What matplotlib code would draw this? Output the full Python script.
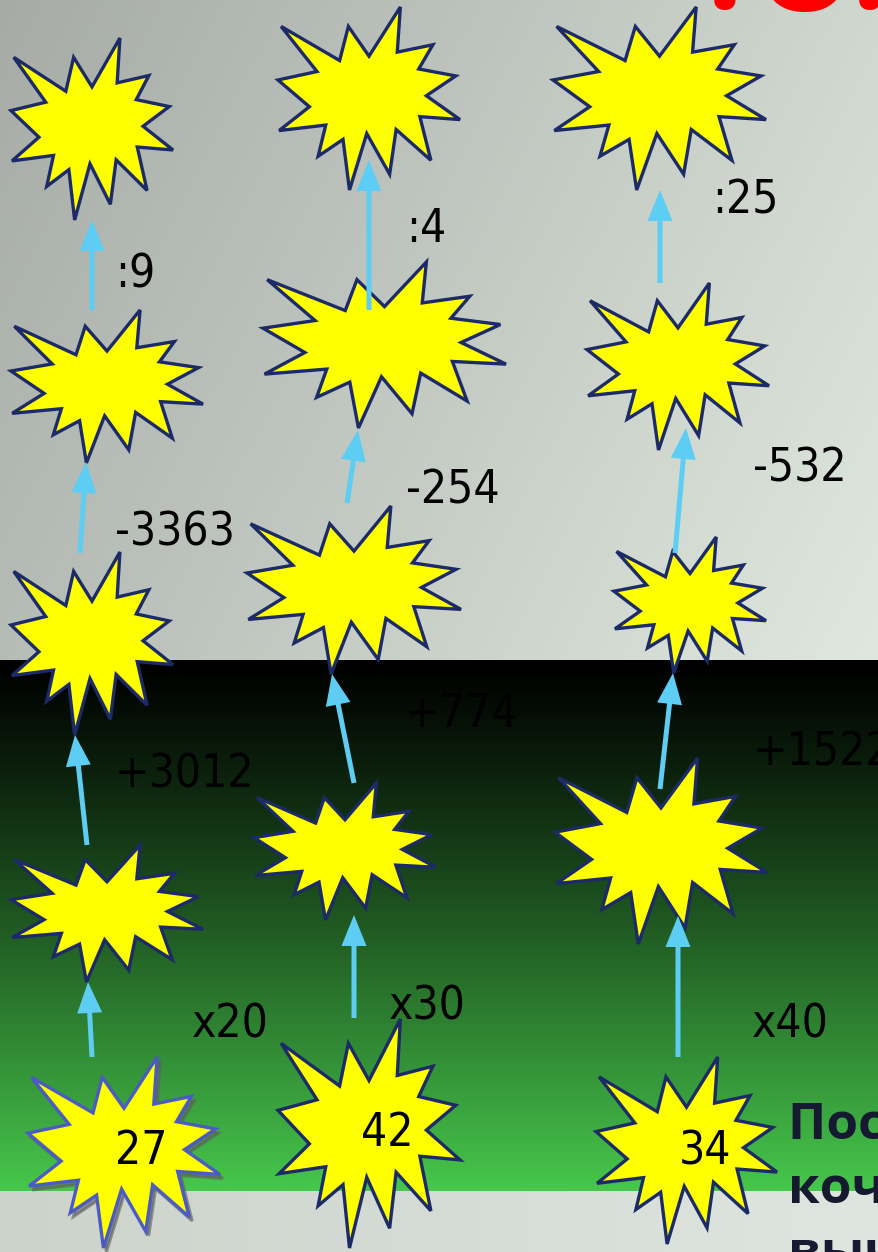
import numpy as np
import matplotlib
matplotlib.use('Agg')
import matplotlib.pyplot as plt
from matplotlib import font_manager
from matplotlib.path import Path
from matplotlib.patches import PathPatch
from matplotlib.colors import to_rgb

W, H = 879, 1252

# "Explosion 1" outline, in 21600 x 21600 shape units
seal_x = [10800, 14522, 14155, 18380, 16702, 21097, 17607, 21600, 16837, 18145, 14020, 13247,
          10532, 8485, 7715, 4762, 5667, 135, 3722, 0, 4627, 370, 7312, 8352]
seal_y = [5800, 0, 5325, 4457, 7315, 8137, 10475, 13290, 12942, 18095, 14457, 19737,
          14935, 21600, 15627, 17617, 13937, 14587, 11775, 8615, 7617, 2295, 6320, 2295]

# star boxes: left, top, right, bottom (pixels)
stars_col1 = [(11, 38, 173, 220), (11, 310, 203, 463), (11, 552, 173, 735),
              (11, 845, 203, 982), (28, 1057, 220, 1248)]
stars_col2 = [(278, 7, 460, 190), (263, 262, 506, 428), (247, 506, 461, 674),
              (254, 783, 436, 920), (278, 1019, 460, 1248)]
stars_col3 = [(553, 7, 766, 190), (587, 283, 769, 450), (614, 537, 766, 673),
              (555, 758, 767, 944), (596, 1057, 777, 1244)]

# arrows: tail -> tip
arrows = [((92, 310), (92, 220)), ((80, 553), (86, 462)), ((87, 845), (75, 735)), ((92, 1057), (88, 982)),
          ((369, 310), (369, 160)), ((347, 503), (358, 430)), ((354, 783), (332, 674)), ((354, 1018), (354, 915)),
          ((660, 283), (660, 190)), ((675, 553), (686, 428)), ((660, 789), (673, 673)), ((678, 1057), (678, 916))]

# operation labels: text, left x, baseline y
ops = [(":9", 115, 288), (":4", 406, 242), (":25", 712, 213),
       ("-3363", 115, 545), ("-254", 406, 503), ("-532", 753, 482),
       ("+3012", 115, 788), ("+774", 405, 727), ("+1522", 753, 766),
       ("x20", 192, 1038), ("x30", 389, 1020), ("x40", 752, 1037)]

start_numbers = ["27", "42", "34"]
start_pos = [(141, 1152), (387, 1134), (705, 1152)]

task_lines = ["Посчитай, прыгая", "кочкам, и", "вычисли"]

# pick a narrow face for the numbers if one is installed
installed = {f.name for f in font_manager.fontManager.ttflist}
dejavu_cond = any(f.name == 'DejaVu Sans' and 'condensed' in str(f.stretch)
                  for f in font_manager.fontManager.ttflist)
if 'Liberation Sans Narrow' in installed:
    num_kw = dict(family=['Liberation Sans Narrow', 'DejaVu Sans'], fontsize=34)
elif dejavu_cond:
    num_kw = dict(family=['DejaVu Sans'], fontstretch='condensed', fontsize=33)
elif 'Roboto' in installed:
    num_kw = dict(family=['Roboto', 'DejaVu Sans'], fontsize=34)
else:
    num_kw = dict(family=['DejaVu Sans'], fontsize=31)

bold_family = ['Open Sans', 'DejaVu Sans'] if 'Open Sans' in installed else ['DejaVu Sans']

fig = plt.figure(figsize=(W / 100, H / 100), dpi=100)
ax = fig.add_axes([0, 0, 1, 1])
ax.set_xlim(0, W)
ax.set_ylim(H, 0)
ax.axis('off')


def blend(c0, c1, t):
    c0 = np.array(to_rgb(c0))
    c1 = np.array(to_rgb(c1))
    return c0 + t[..., None] * (c1 - c0)


# background bands
X, Y = np.meshgrid(np.linspace(0, 1, 300), np.linspace(0, 1, 200))
ax.imshow(blend('#a6aba6', '#dfe8de', 0.72 * X + 0.28 * Y), extent=(0, W, 660, 0),
          aspect='auto', zorder=0, interpolation='bilinear')
tg = np.linspace(0, 1, 400)[:, None] * np.ones((1, 4))
ax.imshow(blend('#000000', '#47c74c', tg ** 1.15), extent=(0, W, 1191, 660),
          aspect='auto', zorder=0, interpolation='bilinear')
ax.imshow(blend('#cbd3cb', '#dfe5df', X[:20]), extent=(0, W, H, 1191),
          aspect='auto', zorder=0, interpolation='bilinear')


def star(box, edge='#1c2a68', shadow=False):
    l, t, r, b = box
    xs = l + np.array(seal_x) / 21600 * (r - l)
    ys = t + np.array(seal_y) / 21600 * (b - t)
    verts = np.column_stack([xs, ys])
    verts = np.vstack([verts, verts[:1]])
    codes = [Path.MOVETO] + [Path.LINETO] * (len(verts) - 2) + [Path.CLOSEPOLY]
    if shadow:
        ax.add_patch(PathPatch(Path(verts + [3, 4], codes), fc='#606060', ec='#606060',
                               lw=2.2, alpha=0.6, zorder=1.9))
    ax.add_patch(PathPatch(Path(verts, codes), fc='#ffff00', ec=edge, lw=2.4,
                           joinstyle='miter', zorder=2))


for col in (stars_col1, stars_col2, stars_col3):
    for i, box in enumerate(col):
        if col is stars_col1 and i == 4:
            star(box, edge='#4a5cc4', shadow=True)
        else:
            star(box)

for (x0, y0), (x1, y1) in arrows:
    ax.arrow(x0, y0, x1 - x0, y1 - y0, width=5, head_width=25, head_length=31,
             length_includes_head=True, color='#5ecdf3', lw=0, zorder=3)

for txt, x, y in ops:
    ax.text(x, y, txt, color='black', ha='left', va='baseline', zorder=4, **num_kw)

for txt, (x, y) in zip(start_numbers, start_pos):
    ax.text(x, y, txt, color='black', ha='center', va='center', zorder=4, **num_kw)

for i, line in enumerate(task_lines):
    ax.text(788, 1139 + 64 * i, line, fontsize=37, family=bold_family,
            fontweight='bold', color='#151a30', ha='left', va='baseline', zorder=4)

# bottom edge of the cut-off red title
for ch, x, y in [("!", 725, 8), ("О", 805, 11), ("!", 870, 8)]:
    ax.text(x, y, ch, fontsize=90, family=bold_family, fontweight='bold',
            color='#ff0000', ha='center', va='baseline', zorder=4)

fig.savefig('out.png', dpi=100)
